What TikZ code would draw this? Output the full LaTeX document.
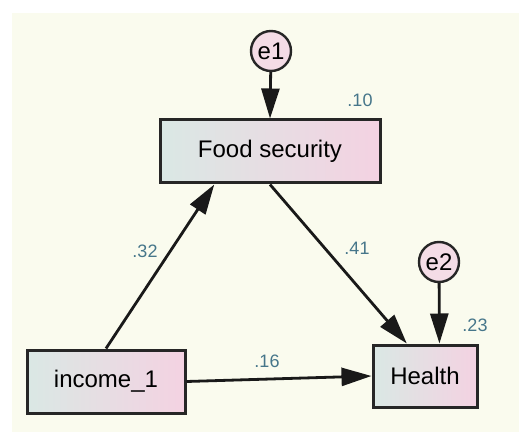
\documentclass[tikz,border=0pt]{standalone}
\usepackage{fontspec}
\setmainfont{Liberation Sans}
\usetikzlibrary{arrows.meta,calc}
\definecolor{bgcream}{RGB}{250,251,238}
\definecolor{boxleft}{RGB}{218,232,228}
\definecolor{boxright}{RGB}{244,210,226}
\definecolor{circfill}{RGB}{244,220,230}
\definecolor{lblcol}{RGB}{70,118,138}
\tikzset{
  varbox/.style={draw=black!85, line width=3pt, rectangle, left color=boxleft, right color=boxright, inner sep=0pt, font=\fontsize{24}{27}\selectfont},
  errcirc/.style={draw=black!85, line width=2.4pt, circle, fill=circfill, minimum size=40pt, inner sep=0pt, font=\fontsize{24}{27}\selectfont},
  pathlbl/.style={text=lblcol, font=\fontsize{18}{20}\selectfont, inner sep=0pt},
  patharrow/.style={draw=black!90, line width=2.8pt, -{Triangle[length=30pt,width=18pt]}}
}
\begin{document}
\begin{tikzpicture}[x=1pt,y=-1pt]
\useasboundingbox (0,0) rectangle (519,435);
\fill[white] (0,0) rectangle (519,435);
\fill[bgcream] (12,13) rectangle (519,432);
\node[varbox, minimum width=220pt, minimum height=63pt] (food) at (270,151.5) {Food security};
\node[varbox, minimum width=158pt, minimum height=63pt] (income) at (106,381.5) {income\_1};
\node[varbox, minimum width=104pt, minimum height=62pt] (health) at (425,376) {Health};
\node[errcirc] (e1) at (271,51) {e1};
\node[errcirc] (e2) at (439,262) {e2};
\coordinate (foodin) at ($(food.south west)!0.25!(food.south east)$);
\coordinate (healthin) at ($(health.north west)!0.33!(health.north east)$);
\coordinate (healthe) at ($(health.north west)!0.635!(health.north east)$);
\draw[patharrow] (e1) -- (food.north);
\draw[patharrow] (e2) -- (healthe);
\draw[patharrow] (income.north) -- (foodin);
\draw[patharrow] (food.south) -- (healthin);
\draw[patharrow] (income.east) -- (health.west);
\node[pathlbl] (l10) at (360,100) {.10};
\node[pathlbl] (l32) at (145,251) {.32};
\node[pathlbl] (l41) at (357,248) {.41};
\node[pathlbl] (l16) at (267,361) {.16};
\node[pathlbl] (l23) at (475,325) {.23};
\end{tikzpicture}
\end{document}
